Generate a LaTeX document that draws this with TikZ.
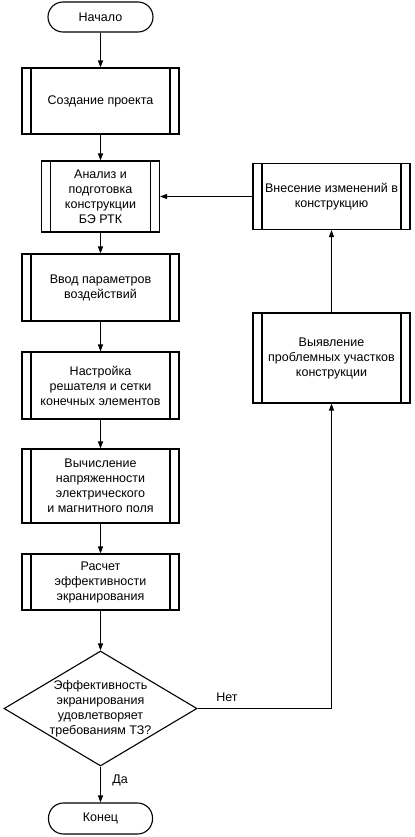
\documentclass[tikz,border=0pt]{standalone}
\usepackage{fontspec}
\setmainfont{Liberation Sans}
\usetikzlibrary{shapes.geometric,arrows.meta,calc}
\tikzset{
  base/.style={draw, line width=1.1bp, align=center, inner sep=0pt, font=\fontsize{12.5bp}{15bp}\selectfont},
  term/.style={base, rectangle, rounded corners=15bp, minimum width=105bp, minimum height=30bp},
  proc/.style={base, rectangle, minimum width=157bp,
    path picture={
      \draw[line width=1.1bp] ([xshift=9bp]path picture bounding box.north west) -- ([xshift=9bp]path picture bounding box.south west);
      \draw[line width=1.1bp] ([xshift=-9bp]path picture bounding box.north east) -- ([xshift=-9bp]path picture bounding box.south east);
    }},
  dec/.style={draw, line width=1.1bp, diamond, minimum width=193bp, minimum height=115bp, inner sep=0pt},
  txt/.style={align=center, inner sep=0pt, font=\fontsize{12.5bp}{15bp}\selectfont},
  arr/.style={line width=1.1bp, -{Triangle[length=7bp,width=5bp]}},
  ln/.style={line width=1.1bp}
}
\begin{document}
\begin{tikzpicture}[x=1bp,y=-1bp]
\useasboundingbox (0,0) rectangle (414,837);
\node[term] (start) at (100.5,17) {Начало};
\node[proc, minimum height=66bp] (p1) at (100.5,101) {Создание проекта};
\node[proc, minimum width=118bp, minimum height=71bp] (p2) at (100.5,196.5) {Анализ и\\подготовка\\конструкции\\БЭ РТК};
\node[proc, minimum height=67bp] (p3) at (100.5,287.5) {Ввод параметров\\воздействий};
\node[proc, minimum height=67bp] (p4) at (100.5,385.5) {Настройка\\решателя и сетки\\конечных элементов};
\node[proc, minimum height=74bp] (p5) at (100.5,486) {Вычисление\\напряженности\\электрического\\и магнитного поля};
\node[proc, minimum height=56bp] (p6) at (100.5,582) {Расчет\\эффективности\\экранирования};
\node[dec] (d) at (100.5,708.5) {};
\node[txt] (dt) at (100.5,708.5) {Эффективность\\экранирования\\удовлетворяет\\требованиям ТЗ?};
\node[term, minimum width=104bp, minimum height=31bp] (end) at (100.5,818.5) {Конец};
\node[proc, minimum height=66bp] (r1) at (331.5,196.5) {Внесение изменений в\\конструкцию};
\node[proc, minimum height=90bp] (r2) at (331.5,358) {Выявление\\проблемных участков\\конструкции};
\draw[arr] (start) -- (p1);
\draw[arr] (p1) -- (p2);
\draw[arr] (p2) -- (p3);
\draw[arr] (p3) -- (p4);
\draw[arr] (p4) -- (p5);
\draw[arr] (p5) -- (p6);
\draw[arr] (p6) -- (d);
\draw[arr] (d) -- (end);
\draw[arr] (d.east) -| (r2.south);
\draw[arr] (r2) -- (r1);
\draw[arr] (r1.west) -- (p2.east);
\node[txt] (no) at (227,697) {Нет};
\node[txt] (yes) at (120,780) {Да};
\end{tikzpicture}
\end{document}
